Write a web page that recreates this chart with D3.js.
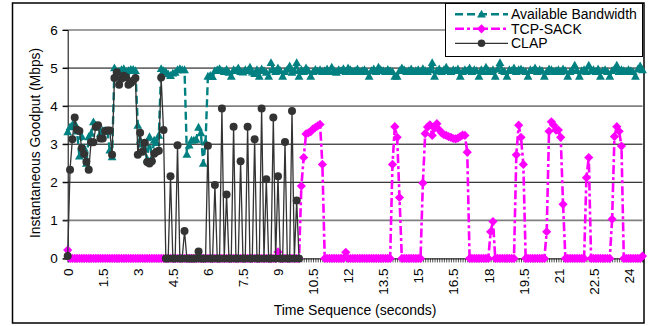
<!DOCTYPE html>
<html>
<head>
<meta charset="utf-8">
<script src="https://cdn.jsdelivr.net/npm/d3@7"></script>
<style>
  body { margin: 0; background: #fff; }
  svg { font-family: "Liberation Sans", Arial, sans-serif; }
</style>
</head>
<body>
<svg id="chart" width="654" height="326"></svg>
<script>
// one sample every 0.1 s
const sampleStep = 0.1;

// Available Bandwidth (Mbps), t = 0.0 .. 24.6
const bandwidth = [
  3.32,3.45,3.5,3.54,3.34,2.68,3.2,2.9,2.49,3.19,
  3.28,3.58,3.5,3.45,3.28,3.36,3.36,3.34,2.84,2.66,
  5.0,4.89,4.91,4.95,4.98,4.9,4.93,4.96,4.96,4.93,
  3.49,3.1,3.0,2.88,2.6,3.19,2.62,3.1,3.04,3.23,
  4.98,4.93,4.9,4.84,4.8,4.86,4.88,4.95,4.98,4.95,
  4.95,2.73,2.97,3.1,3.1,3.12,3.44,3.29,2.49,3.05,
  4.78,4.8,4.77,4.93,4.95,4.98,4.93,4.9,4.96,4.88,
  4.78,4.95,4.93,5.0,4.9,4.89,4.95,4.93,5.02,4.89,
  4.85,4.95,4.78,4.97,4.93,4.88,4.78,5.14,4.95,4.9,
  5.0,4.93,4.78,4.9,4.96,5.05,4.88,4.93,5.14,4.78,
  4.95,4.9,5.0,4.93,4.78,4.9,4.96,4.92,4.95,4.9,
  4.93,4.97,4.9,5.02,4.93,4.88,4.95,4.93,4.98,4.9,
  5.0,4.95,4.9,4.93,4.97,4.9,4.93,4.95,4.9,4.78,
  4.93,4.97,4.9,5.02,4.95,4.93,4.9,4.96,4.93,4.9,
  4.78,4.78,4.93,5.0,4.95,4.9,4.93,4.97,4.9,4.93,
  4.95,4.9,4.98,4.93,4.9,4.95,5.14,4.78,4.93,4.97,
  4.9,4.95,5.02,4.93,4.9,4.95,4.93,4.97,4.78,4.9,
  4.95,4.93,5.0,4.9,4.95,4.93,4.78,4.95,4.9,5.02,
  4.93,4.9,4.95,4.78,4.97,5.14,4.93,4.9,4.78,4.95,
  4.93,5.0,4.9,4.95,4.97,4.93,4.9,4.78,4.95,4.93,
  5.0,4.9,4.95,4.93,4.78,4.9,4.97,4.95,4.9,4.93,
  4.95,4.9,4.97,4.93,4.78,4.9,4.95,5.07,4.93,4.78,
  4.93,4.95,4.9,5.07,4.93,4.95,4.9,4.97,4.78,4.93,
  4.95,4.9,4.78,4.93,4.97,5.07,4.9,4.95,4.93,4.9,
  4.95,4.93,4.9,4.78,4.97,5.05,4.95
];

// TCP-SACK goodput (Mbps), t = 0.0 .. 24.6
const tcpSack = [
  0.22,0,0,0,0,0,0,0,0,0,
  0,0,0,0,0,0,0,0,0,0,
  0,0,0,0,0,0,0,0,0,0,
  0,0,0,0,0,0,0,0,0,0,
  0,0,0,0,0,0,0,0,0,0,
  0,0,0,0,0,0,0,0,0,0,
  0,0,0,0,0,0,0,0,0,0,
  0,0,0,0,0,0,0,0,0,0,
  0,0,0,0,0,0,0,0,0,0,
  0.17,0,0,0,0,0,0,0,0,0,
  1.9,2.65,3.27,3.3,3.33,3.4,3.44,3.48,3.52,2.47,
  0,0,0,0,0,0,0,0,0,0.16,
  0,0,0,0,0,0,0,0,0,0,
  0,0,0,0,0,0,0,0,0,2.47,
  3.46,3.18,1.6,0,0,0,0,0,0,0,
  0,0,1.98,3.28,3.45,3.51,3.23,3.42,3.54,3.38,
  3.3,3.25,3.23,3.2,3.18,3.15,3.14,3.16,3.2,3.24,
  3.23,2.79,0,0,0,0,0,0,0,0,
  0,0.7,0.97,0,0,0,0,0,0,0,
  0,0,2.72,3.5,3.18,2.47,0,0,0,0,
  0,0,0,0,0,0.7,3.34,3.59,3.5,3.37,
  3.37,3.18,1.42,0,0,0,0,0,0,0,
  0,0,2.12,2.65,0,0,0,0,0,0,
  0,0,0,1.03,3.2,3.46,3.34,2.95,0,0,
  0,0,0,0,0,0,0.06
];

// CLAP goodput (Mbps), t = 0.0 .. 9.9
const clap = [
  0.06,2.33,3.13,3.7,3.38,3.35,2.9,2.74,2.54,2.33,
  3.05,3.05,3.45,3.5,3.15,3.15,3.35,3.36,3.36,2.72,
  4.74,4.89,4.56,4.72,4.8,4.76,4.56,4.61,4.67,4.74,
  2.72,3.3,2.8,3.04,2.53,2.49,2.55,2.75,2.8,2.83,
  4.75,3.37,0,0,2.16,0,0,2.97,0,0,
  0.72,0,0,0,0,0,0.18,0,0,0,
  2.96,0,0,1.93,0,0,3.94,0,1.68,0,
  0,3.46,0,0,2.55,0,0,3.46,0,0,
  3.13,0,0,3.94,0,2.08,0,0,3.7,0,
  2.16,0,0,3.06,0,0,3.87,0,1.52,0
];

const xTickValues = [0,1.5,3,4.5,6,7.5,9,10.5,12,13.5,15,16.5,18,19.5,21,22.5,24];
const yTickValues = [0,1,2,3,4,5,6];
const seriesNames = ["Available Bandwidth", "TCP-SACK", "CLAP"];

const svg = d3.select("#chart");

const plotLeft = 67.7, plotRight = 642.5, plotTop = 30, plotBottom = 258.4;
const x = d3.scaleLinear().domain([0, 24.6]).range([plotLeft, plotRight]);
const y = d3.scaleLinear().domain([0, 6]).range([plotBottom, plotTop]);

// outer frame
svg.append("rect")
  .attr("x", 12.5).attr("y", 3).attr("width", 631.5).attr("height", 320)
  .attr("fill", "#fff").attr("stroke", "#000").attr("stroke-width", 1.5);

// grid lines
const greyGrid = [1, 4, 6];
svg.append("g").selectAll("line")
  .data(yTickValues.filter(v => v > 0))
  .enter().append("line")
  .attr("x1", plotLeft - 5).attr("x2", plotRight)
  .attr("y1", d => y(d)).attr("y2", d => y(d))
  .attr("stroke", d => greyGrid.includes(d) ? "#808080" : "#000")
  .attr("stroke-width", d => greyGrid.includes(d) ? 1.6 : 1);

// y axis
const yAxis = svg.append("g")
  .attr("transform", "translate(" + plotLeft + ",0)")
  .call(d3.axisLeft(y).tickValues(yTickValues).tickSize(5).tickPadding(5).tickFormat(d3.format("d")));
yAxis.select(".domain").attr("stroke", "#000");
yAxis.selectAll("text").attr("font-size", 13.5).attr("fill", "#000");

// x axis, minor ticks every sample, labels every 1.5 s
const minorTicks = d3.range(0, 247).map(i => i * sampleStep);
const xMinor = svg.append("g")
  .attr("transform", "translate(0," + plotBottom + ")")
  .call(d3.axisBottom(x).tickValues(minorTicks).tickSize(4).tickFormat(""));
xMinor.selectAll(".tick line").attr("stroke", "#000").attr("stroke-width", 0.7);
xMinor.select(".domain").attr("stroke", "#000");

const xAxis = svg.append("g")
  .attr("transform", "translate(0," + plotBottom + ")")
  .call(d3.axisBottom(x).tickValues(xTickValues).tickSize(0).tickFormat(d3.format("")));
xAxis.select(".domain").remove();
xAxis.selectAll("text")
  .attr("transform", "rotate(-90)")
  .attr("x", -10).attr("y", 0).attr("dy", "0.35em")
  .style("text-anchor", "end")
  .attr("font-size", 13.5).attr("fill", "#000");

// axis titles
svg.append("text")
  .attr("transform", "translate(40,143) rotate(-90)")
  .attr("text-anchor", "middle").attr("font-size", 13.8)
  .text("Instantaneous Goodput (Mbps)");
svg.append("text")
  .attr("x", (plotLeft + plotRight) / 2).attr("y", 315)
  .attr("text-anchor", "middle").attr("font-size", 14)
  .text("Time Sequence (seconds)");

// series
const line = d3.line()
  .x((d, i) => x(i * sampleStep))
  .y(d => y(d));

const triangle = "M0,-4.6L4.4,3.2L-4.4,3.2Z";
const diamond = "M0,-4.6L4.6,0L0,4.6L-4.6,0Z";

const series = [
  { name: seriesNames[0], values: bandwidth, color: "#008080", width: 2.4, dash: "8,4", marker: triangle },
  { name: seriesNames[1], values: tcpSack, color: "#FF00FF", width: 2.6, dash: "9,3,3,3", marker: diamond },
  { name: seriesNames[2], values: clap, color: "#333333", width: 1.3, dash: null, marker: null }
];

series.forEach(s => {
  const g = svg.append("g");
  g.append("path")
    .datum(s.values)
    .attr("d", line)
    .attr("fill", "none")
    .attr("stroke", s.color)
    .attr("stroke-width", s.width)
    .attr("stroke-dasharray", s.dash);
  if (s.marker) {
    g.selectAll("path.m")
      .data(s.values)
      .enter().append("path")
      .attr("class", "m")
      .attr("d", s.marker)
      .attr("transform", (d, i) => "translate(" + x(i * sampleStep) + "," + y(d) + ")")
      .attr("fill", s.color);
  } else {
    g.selectAll("circle")
      .data(s.values)
      .enter().append("circle")
      .attr("cx", (d, i) => x(i * sampleStep))
      .attr("cy", d => y(d))
      .attr("r", 4)
      .attr("fill", s.color);
  }
});

// legend
const legend = svg.append("g");
legend.append("rect")
  .attr("x", 445.5).attr("y", 3.5).attr("width", 197).attr("height", 53)
  .attr("fill", "#fff").attr("stroke", "#000").attr("stroke-width", 1);

series.forEach((s, i) => {
  const ly = 14.3 + i * 14.5;
  const row = legend.append("g");
  row.append("line")
    .attr("x1", 455).attr("x2", 508).attr("y1", ly).attr("y2", ly)
    .attr("stroke", s.color)
    .attr("stroke-width", s.dash ? s.width : 1.2)
    .attr("stroke-dasharray", s.dash);
  if (s.marker) {
    row.append("path").attr("d", s.marker)
      .attr("transform", "translate(481.5," + ly + ")")
      .attr("fill", s.color);
  } else {
    row.append("circle").attr("cx", 481.5).attr("cy", ly).attr("r", 3.8).attr("fill", s.color);
  }
  row.append("text")
    .attr("x", 511).attr("y", ly + 5)
    .attr("font-size", 14)
    .text(s.name);
});
</script>
</body>
</html>
